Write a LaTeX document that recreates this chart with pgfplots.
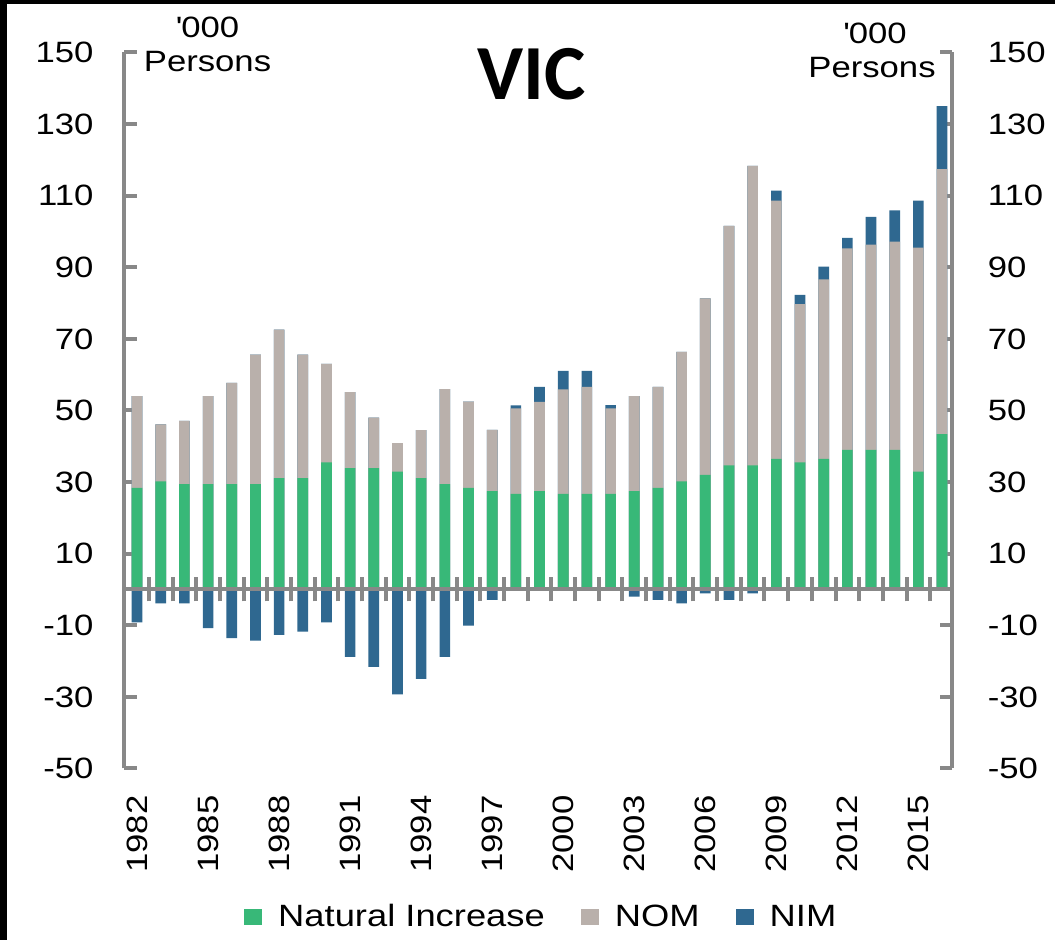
\documentclass[border=0pt]{standalone}
\usepackage{fontspec}
\setmainfont{Liberation Sans}[FakeStretch=1.18]
\newfontfamily\titlefont{Carlito}
\usepackage{pgfplots}
\usepackage{pgfplotstable}
\pgfplotsset{compat=1.18}

\definecolor{nigreen}{HTML}{38B878}
\definecolor{nomgrey}{HTML}{B9B0AB}
\definecolor{nimblue}{HTML}{2F6890}
\definecolor{axgrey}{HTML}{888888}
\newcommand\lbl{\fontsize{14.7}{17}\selectfont}

% VIC population components, '000 persons
\pgfplotstableread{
x yr   ni   nom  nimpos nimneg
0 1982 28.4 25.6 0    -9.2
1 1983 30.2 15.9 0    -3.9
2 1984 29.4 17.7 0    -3.9
3 1985 29.4 24.6 0    -10.8
4 1986 29.4 28.3 0    -13.6
5 1987 29.4 36.2 0    -14.3
6 1988 31.1 41.5 0    -12.7
7 1989 31.1 34.5 0    -11.8
8 1990 35.5 27.5 0    -9.2
9 1991 33.9 21.2 0    -18.8
10 1992 33.9 14.1 0   -21.6
11 1993 32.9 8.0  0   -29.3
12 1994 31.1 13.4 0   -25.0
13 1995 29.4 26.6 0   -18.8
14 1996 28.4 24.1 0   -10.1
15 1997 27.5 17.1 0   -2.9
16 1998 26.7 23.9 0.8 0
17 1999 27.5 24.9 4.2 0
18 2000 26.7 29.2 5.2 0
19 2001 26.7 29.9 4.5 0
20 2002 26.7 23.9 0.9 0
21 2003 27.5 26.5 0   -2.0
22 2004 28.4 28.2 0   -2.9
23 2005 30.2 36.2 0   -3.9
24 2006 32.0 49.3 0   -1.1
25 2007 34.7 66.9 0   -2.9
26 2008 34.7 83.6 0   -1.1
27 2009 36.5 72.1 2.8 0
28 2010 35.5 44.2 2.6 0
29 2011 36.5 50.1 3.6 0
30 2012 39.0 56.3 2.9 0
31 2013 39.0 57.3 7.8 0
32 2014 39.0 58.2 8.7 0
33 2015 32.9 62.6 13.1 0
34 2016 43.4 74.0 17.6 0
}\vic

\pgfplotsset{vicaxis/.style={
  scale only axis, width=413.75pt, height=358pt,
  at={(0,0)}, anchor=south west,
  xmin=-0.53, xmax=34.42, ymin=-50, ymax=150,
  ytick={-50,-30,...,150},
  /pgf/number format/assume math mode=true,
  tick label style={font=\lbl},
}}

\begin{document}
\begin{tikzpicture}
\path[use as bounding box, fill=black] (-62.25pt,-85.75pt) rectangle (465.25pt,384.25pt);
\fill[white] (-58.75pt,-85.75pt) rectangle (465.25pt,382.25pt);

\begin{axis}[vicaxis,
  separate axis lines,
  x axis line style={draw=none},
  y axis line style={axgrey, line width=2pt},
  tick align=inside,
  major tick length=6pt,
  ytick style={axgrey, line width=2pt},
  xtick style={draw=none},
  yticklabel pos=left,
  yticklabel style={xshift=-12pt},
  xtick={0,3,...,33},
  xticklabels={1982,1985,1988,1991,1994,1997,2000,2003,2006,2009,2012,2015},
  xticklabel style={yshift=-10pt, rotate=90, anchor=east},
  legend columns=3,
  legend image code/.code={\fill[#1] (0pt,-3.9pt) rectangle (9pt,3.9pt); \path (15pt,0pt);},
  legend style={draw=none, fill=none, font=\fontsize{15.4}{18}\selectfont,
    at={(axis description cs:0.5,0)}, anchor=center, xshift=2pt, yshift=-74.25pt,
    /tikz/every even column/.append style={column sep=16pt}},
]
\addlegendimage{fill=nigreen, draw=none}
\addlegendentry{Natural Increase}
\addlegendimage{fill=nomgrey, draw=none}
\addlegendentry{NOM}
\addlegendimage{fill=nimblue, draw=none}
\addlegendentry{NIM}

\addplot[ybar, bar width=0.45, bar shift=0pt, fill=nimblue, draw=none, forget plot]
  table[x=x, y expr=\thisrow{ni}+\thisrow{nom}+\thisrow{nimpos}] {\vic};
\addplot[ybar, bar width=0.45, bar shift=0pt, fill=nomgrey, draw=none, forget plot]
  table[x=x, y expr=\thisrow{ni}+\thisrow{nom}] {\vic};
\addplot[ybar, bar width=0.45, bar shift=0pt, fill=nigreen, draw=none, forget plot]
  table[x=x, y=ni] {\vic};
\addplot[ybar, bar width=0.45, bar shift=0pt, fill=nimblue, draw=none, forget plot]
  table[x=x, y=nimneg] {\vic};

\draw[axgrey, line width=2pt] (axis cs:-0.53,0) -- (axis cs:34.42,0);
\pgfplotsinvokeforeach{0,...,33}{
  \draw[axgrey, line width=2pt] ([yshift=-6pt]axis cs:#1.5,0) -- ([yshift=6pt]axis cs:#1.5,0);
}
\end{axis}

\begin{axis}[vicaxis,
  axis x line=none, axis y line*=right,
  y axis line style={draw=none},
  ytick style={draw=none},
  yticklabel style={xshift=14.4pt},
]
\end{axis}

\node[anchor=base, font=\titlefont\bfseries\fontsize{39}{40}\selectfont] at (203.5pt,334.25pt) {VIC};
\node[anchor=base, font=\lbl, inner sep=0pt] at (41.5pt,365.25pt) {\textquotesingle000};
\node[anchor=base, font=\lbl, inner sep=0pt] at (41.5pt,348.25pt) {Persons};
\node[anchor=base, font=\lbl, inner sep=0pt] at (375.25pt,362.25pt) {\textquotesingle000};
\node[anchor=base, font=\lbl, inner sep=0pt] at (373.75pt,345.25pt) {Persons};
\end{tikzpicture}
\end{document}
